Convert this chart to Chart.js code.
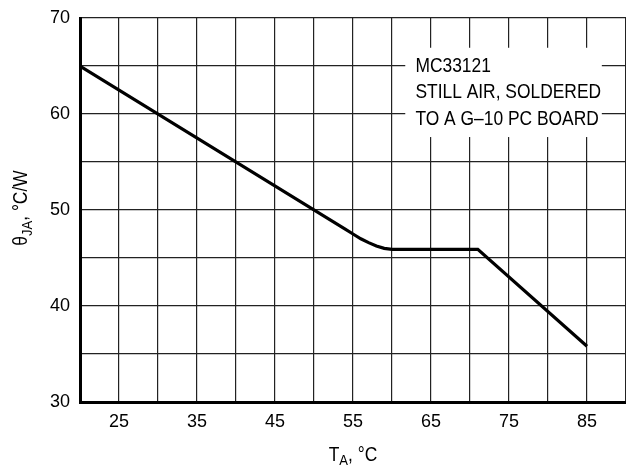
<!DOCTYPE html>
<html>
<head>
<meta charset="utf-8">
<script src="https://cdn.jsdelivr.net/npm/chart.js@4"></script>
<style>
  html, body { margin: 0; padding: 0; background: #fff; }
  #wrap { width: 626px; height: 465px; position: relative; }
</style>
</head>
<body>
<div id="wrap"><canvas id="chart"></canvas></div>
<script>
var tempC = [20, 54, 55, 56, 57, 58, 59, 60, 71, 85];
var thetaJA = [65, 48.0, 47.5, 47.0, 46.6, 46.25, 46.0, 45.9, 45.9, 35.8];
var xLabels = [25, 35, 45, 55, 65, 75, 85];
var noteLines = ["MC33121", "STILL AIR, SOLDERED", "TO A G\u201310 PC BOARD"];

var fontFamily = '"Liberation Sans", Arial, sans-serif';
var squeeze = 0.87; // the original lettering is a narrow face

var points = tempC.map(function (t, i) { return { x: t, y: thetaJA[i] }; });

// note box corners in data units
var noteBox = { x0: 61.7, x1: 86.9, y0: 66.9, y1: 57.6, textX: 63.0 };

function narrowText(ctx, txt, x, y) {
    ctx.save();
    ctx.translate(x, y);
    ctx.scale(squeeze, 1);
    ctx.fillText(txt, 0, 0);
    ctx.restore();
}

var overlay = {
    id: "overlay",
    beforeDatasetsDraw: function (chart) {
        var ctx = chart.ctx;
        var xs = chart.scales.x, ys = chart.scales.y;
        ctx.save();
        ctx.fillStyle = "#fff";
        var l = xs.getPixelForValue(noteBox.x0), r = xs.getPixelForValue(noteBox.x1);
        var t = ys.getPixelForValue(noteBox.y0), b = ys.getPixelForValue(noteBox.y1);
        ctx.fillRect(l, t, r - l, b - t);
        ctx.fillStyle = "#000";
        ctx.font = "20px " + fontFamily;
        ctx.textBaseline = "alphabetic";
        var tx = xs.getPixelForValue(noteBox.textX);
        for (var i = 0; i < noteLines.length; i++) {
            narrowText(ctx, noteLines[i], tx, t + 24 + i * 26.5);
        }
        ctx.restore();
    },
    afterDraw: function (chart) {
        var ctx = chart.ctx;
        var area = chart.chartArea;
        ctx.save();
        ctx.fillStyle = "#000";
        ctx.textBaseline = "alphabetic";
        var big = "20px " + fontFamily, small = "15px " + fontFamily;

        // x title: T_A, °C
        ctx.font = big;
        var wT = ctx.measureText("T").width * squeeze, wRest = ctx.measureText(", \u00b0C").width * squeeze;
        ctx.font = small;
        var wA = ctx.measureText("A").width * squeeze;
        var x = (area.left + area.right) / 2 - (wT + wA + wRest) / 2;
        var base = 461;
        ctx.font = big; narrowText(ctx, "T", x, base);
        ctx.font = small; narrowText(ctx, "A", x + wT, base + 4);
        ctx.font = big; narrowText(ctx, ", \u00b0C", x + wT + wA, base);

        // y title: theta_JA, °C/W rotated
        ctx.translate(27, (area.top + area.bottom) / 2 - 2);
        ctx.rotate(-Math.PI / 2);
        ctx.font = big;
        var wTh = ctx.measureText("\u03b8").width * squeeze, wR2 = ctx.measureText(", \u00b0C/W").width * squeeze;
        ctx.font = small;
        var wJA = ctx.measureText("JA").width * squeeze;
        var y0 = -(wTh + wJA + wR2) / 2;
        ctx.font = big; narrowText(ctx, "\u03b8", y0, 0);
        ctx.font = small; narrowText(ctx, "JA", y0 + wTh, 5);
        ctx.font = big; narrowText(ctx, ", \u00b0C/W", y0 + wTh + wJA, 0);
        ctx.restore();
    }
};

new Chart(document.getElementById("chart"), {
    type: "line",
    data: {
        datasets: [{
            data: points,
            borderColor: "#000",
            borderWidth: 3.2,
            pointRadius: 0,
            tension: 0,
            fill: false
        }]
    },
    options: {
        responsive: true,
        maintainAspectRatio: false,
        animation: false,
        layout: { padding: { top: 18, right: 0, left: 0, bottom: 0 } },
        plugins: {
            legend: { display: false },
            tooltip: { enabled: false }
        },
        scales: {
            x: {
                type: "linear",
                min: 20,
                max: 90,
                border: { color: "#000", width: 3 },
                grid: { color: "#222", lineWidth: 1.2, drawTicks: false },
                ticks: {
                    stepSize: 5,
                    padding: 9,
                    color: "#000",
                    font: { family: fontFamily, size: 18 },
                    maxRotation: 0,
                    autoSkip: false,
                    callback: function (v) { return xLabels.indexOf(v) >= 0 ? String(v) : ""; }
                },
                afterFit: function (s) { s.height = 63; s.paddingLeft = 0; s.paddingRight = 0; }
            },
            y: {
                min: 30,
                max: 70,
                border: { color: "#000", width: 3 },
                grid: { color: "#222", lineWidth: 1.2, drawTicks: false },
                ticks: {
                    stepSize: 5,
                    padding: 10,
                    color: "#000",
                    font: { family: fontFamily, size: 18 },
                    callback: function (v) { return v % 10 === 0 ? String(v) : ""; }
                },
                afterFit: function (s) { s.width = 80; s.paddingTop = 0; s.paddingBottom = 0; }
            }
        }
    },
    plugins: [overlay]
});
</script>
</body>
</html>
